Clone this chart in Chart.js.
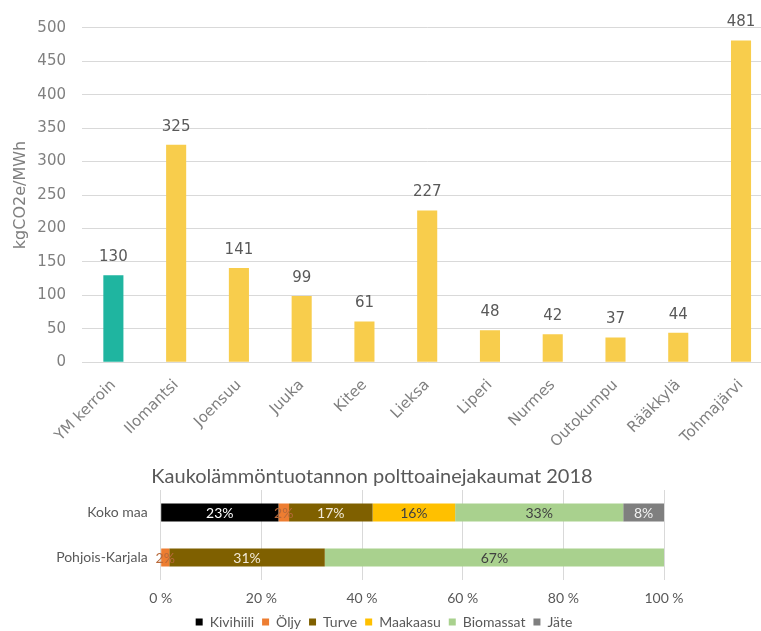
<!DOCTYPE html>
<html lang="fi">
<head>
<meta charset="utf-8">
<title>Kaukolämmön päästökertoimet</title>
<script src="https://cdn.jsdelivr.net/npm/chart.js@4.4.1/dist/chart.umd.min.js"></script>
<style>
  html, body { margin: 0; padding: 0; background: #fff; overflow: hidden; width: 761px; height: 631px; }
  #topWrap { position: absolute; left: 0; top: 0; width: 790px; height: 460px; }
  #bottomWrap { position: absolute; left: 0; top: 450px; width: 761px; height: 189px; }
</style>
</head>
<body>
<div id="topWrap"><canvas id="factorChart"></canvas></div>
<div id="bottomWrap"><canvas id="fuelChart"></canvas></div>
<script>
// Päästökertoimet kunnittain (kgCO2e/MWh)
const municipalities = ['YM kerroin', 'Ilomantsi', 'Joensuu', 'Juuka', 'Kitee', 'Lieksa',
  'Liperi', 'Nurmes', 'Outokumpu', 'Rääkkylä', 'Tohmajärvi'];
const emissionFactors = [130, 325, 141, 99, 61, 227, 48, 42, 37, 44, 481];

// Polttoainejakaumat 2018 (%)
const regions = ['Koko maa', 'Pohjois-Karjala'];
const fuels = ['Kivihiili', 'Öljy', 'Turve', 'Maakaasu', 'Biomassat', 'Jäte'];
const kivihiili = [23.4, null];
const oljy = [2.1, 1.7];
const turve = [16.6, 30.9];
const maakaasu = [16.4, null];
const biomassat = [33.4, 67.4];
const jate = [8.1, null];

const fuelShares = [kivihiili, oljy, turve, maakaasu, biomassat, jate];
const fuelColors = ['#000000', '#ed7d31', '#7f6000', '#ffc000', '#a9d18e', '#7f7f7f'];
const fuelLabelColors = ['#ffffff', '#b8693a', '#f2ead8', '#404040', '#404040', '#f2f2f2'];

const topFont = '"DejaVu Sans", sans-serif';
const bottomFont = 'Lato, "Open Sans", sans-serif';

// numbers above the bars
const barValueLabels = {
  id: 'barValueLabels',
  afterDatasetsDraw(chart) {
    const ctx = chart.ctx;
    const ds = chart.data.datasets[0];
    ctx.save();
    ctx.font = '15px ' + topFont;
    ctx.fillStyle = '#595959';
    ctx.textAlign = 'center';
    ctx.textBaseline = 'middle';
    chart.getDatasetMeta(0).data.forEach((bar, i) => {
      ctx.fillText(String(ds.data[i]), bar.x, bar.y - 18);
    });
    ctx.restore();
  }
};

// percentages inside the stacked segments
const segmentLabels = {
  id: 'segmentLabels',
  afterDatasetsDraw(chart) {
    const ctx = chart.ctx;
    ctx.save();
    ctx.font = '14px ' + bottomFont;
    ctx.textAlign = 'center';
    ctx.textBaseline = 'middle';
    chart.data.datasets.forEach((ds, k) => {
      ctx.fillStyle = fuelLabelColors[k];
      chart.getDatasetMeta(k).data.forEach((seg, i) => {
        const v = ds.data[i];
        if (!v) return;
        ctx.fillText(Math.round(v) + '%', (seg.x + seg.base) / 2, seg.y + 1);
      });
    });
    ctx.restore();
  }
};

// move the title and legend boxes a bit to the right of the full-width area
const shiftBlocks = {
  id: 'shiftBlocks',
  afterLayout(chart) {
    const t = chart.titleBlock, l = chart.legend;
    if (t) { t.left += 40; t.right += 40; }
    if (l) { l.left += 52; l.right += 52; }
  }
};

new Chart(document.getElementById('factorChart'), {
  type: 'bar',
  data: {
    labels: municipalities,
    datasets: [{
      data: emissionFactors,
      backgroundColor: emissionFactors.map((v, i) => i === 0 ? '#1fb5a0' : '#f8cd4c'),
      barPercentage: 0.32,
      categoryPercentage: 1
    }]
  },
  options: {
    responsive: true,
    maintainAspectRatio: false,
    animation: false,
    layout: { padding: { top: 27.7, right: 17.6, left: 0, bottom: 0 } },
    plugins: { legend: { display: false }, tooltip: { enabled: false } },
    scales: {
      x: {
        grid: { display: false },
        border: { display: false },
        ticks: {
          autoSkip: false, minRotation: 45, maxRotation: 45, padding: 6,
          color: '#7f7f7f', font: { family: topFont, size: 15 }
        },
        afterFit: s => { s.height = 460 - 362.3; }
      },
      y: {
        min: 0, max: 500,
        grid: { color: '#d9d9d9', drawTicks: false },
        border: { display: false },
        ticks: { stepSize: 50, padding: 16, color: '#808080', font: { family: topFont, size: 15 } },
        title: {
          display: true, text: 'kgCO2e/MWh', color: '#7f7f7f',
          font: { family: topFont, size: 16 }, padding: { top: 11, bottom: 0 }
        },
        afterFit: s => { s.width = 82; }
      }
    }
  },
  plugins: [barValueLabels]
});

new Chart(document.getElementById('fuelChart'), {
  type: 'bar',
  data: {
    labels: regions,
    datasets: fuels.map((name, k) => ({
      label: name,
      data: fuelShares[k],
      backgroundColor: fuelColors[k],
      barPercentage: 0.4,
      categoryPercentage: 1
    }))
  },
  options: {
    indexAxis: 'y',
    responsive: true,
    maintainAspectRatio: false,
    animation: false,
    layout: { padding: { top: 0, right: 97, left: 0, bottom: 0 } },
    plugins: {
      title: {
        display: true,
        text: 'Kaukolämmöntuotannon polttoainejakaumat 2018',
        color: '#595959',
        font: { family: bottomFont, size: 20, weight: 'normal' },
        padding: { top: 15, bottom: 1 }
      },
      legend: {
        position: 'bottom',
        labels: {
          boxWidth: 7, boxHeight: 7, padding: 8, color: '#595959',
          font: { family: bottomFont, size: 14 }
        }
      },
      tooltip: { enabled: false }
    },
    scales: {
      x: {
        stacked: true, min: 0, max: 100,
        grid: { color: '#d9d9d9', drawTicks: false },
        border: { display: false },
        ticks: {
          stepSize: 20, padding: 10, color: '#595959',
          font: { family: bottomFont, size: 14 },
          callback: v => v + ' %'
        },
        afterFit: s => { s.height = 27; }
      },
      y: {
        stacked: true,
        grid: { display: false, drawTicks: false },
        border: { display: false },
        ticks: { padding: 13, color: '#595959', font: { family: bottomFont, size: 14 } },
        afterFit: s => { s.width = 160.7; }
      }
    }
  },
  plugins: [segmentLabels, shiftBlocks]
});
</script>
</body>
</html>
